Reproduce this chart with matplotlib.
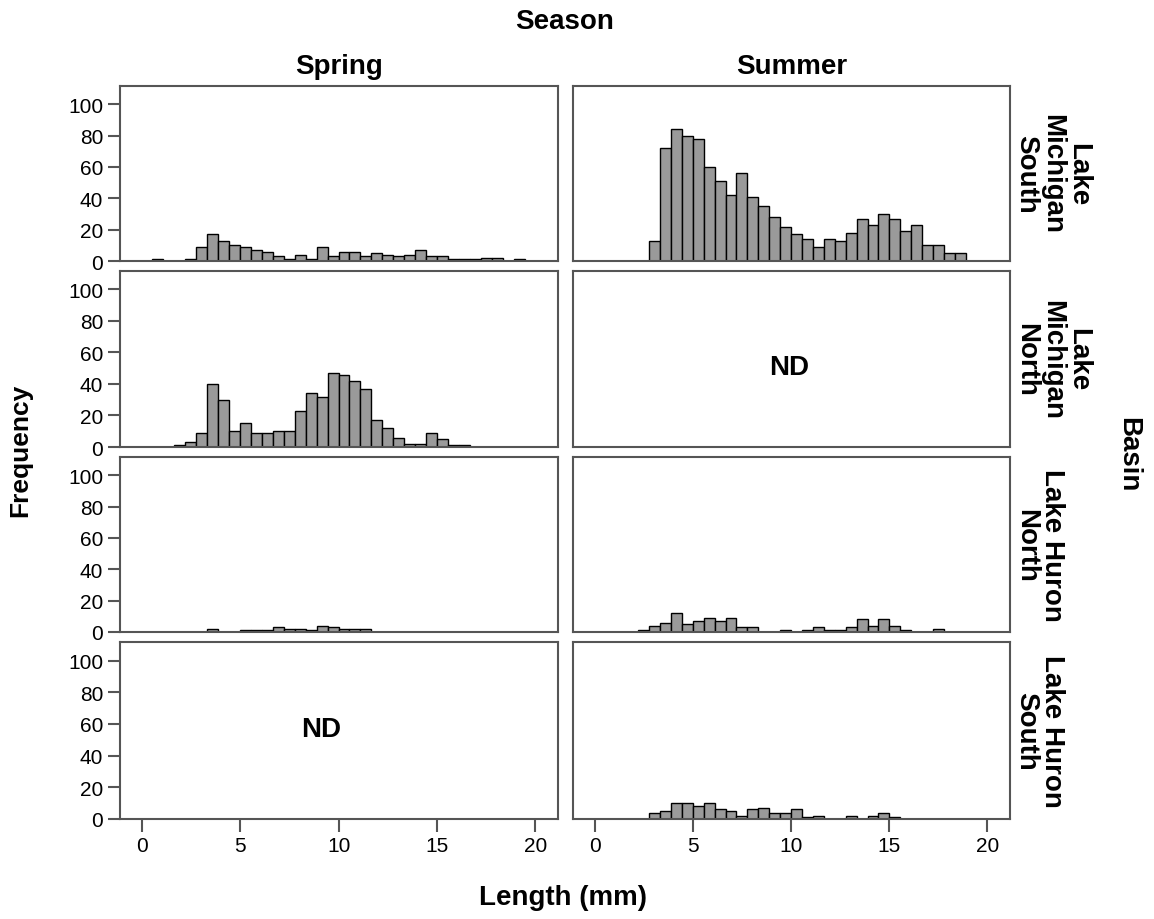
import numpy as np
import matplotlib
matplotlib.use('Agg')
import matplotlib.pyplot as plt

plt.rcParams['font.family'] = ['Liberation Sans', 'DejaVu Sans']

# histogram bins shared by all panels (length in mm)
bin_lo = 0.53
bin_w = 0.5566
n_bins = 34

seasons = ['Spring', 'Summer']
basins = ['Lake\nMichigan\nSouth', 'Lake\nMichigan\nNorth', 'Lake Huron\nNorth', 'Lake Huron\nSouth']

# frequency per bin, one list per panel (None = no data)
spring_lms = [1, 0, 0, 1, 9, 17, 13, 10, 9, 7, 6, 3, 1, 4, 1, 9, 3, 6, 6, 3,
              5, 4, 3, 4, 7, 3, 3, 1, 1, 1, 2, 2, 0, 1]
summer_lms = [0, 0, 0, 0, 13, 72, 84, 80, 78, 60, 51, 42, 56, 41, 35, 28, 22, 17, 14, 9,
              14, 13, 18, 27, 23, 30, 27, 19, 23, 10, 10, 5, 5, 0]
spring_lmn = [0, 0, 1, 3, 9, 40, 30, 10, 15, 9, 9, 10, 10, 23, 34, 32, 47, 46, 42, 37,
              17, 12, 6, 2, 2, 9, 5, 1, 1, 0, 0, 0, 0, 0]
summer_lmn = None
spring_lhn = [0, 0, 0, 0, 0, 2, 0, 0, 1, 1, 1, 3, 2, 2, 1, 4, 3, 2, 2, 2,
              0, 0, 0, 0, 0, 0, 0, 0, 0, 0, 0, 0, 0, 0]
summer_lhn = [0, 0, 0, 1, 4, 6, 12, 5, 7, 9, 7, 9, 3, 3, 0, 0, 1, 0, 1, 3,
              1, 1, 3, 8, 4, 8, 4, 1, 0, 0, 2, 0, 0, 0]
spring_lhs = None
summer_lhs = [0, 0, 0, 0, 4, 5, 10, 10, 8, 10, 6, 5, 2, 6, 7, 4, 4, 6, 1, 2,
              0, 0, 2, 0, 2, 4, 1, 0, 0, 0, 0, 0, 0, 0]

panels = [[spring_lms, summer_lms],
          [spring_lmn, summer_lmn],
          [spring_lhn, summer_lhn],
          [spring_lhs, summer_lhs]]
nd_pos = {(1, 1): (9.9, 51), (3, 0): (9.1, 57)}

x_ticks = [0, 5, 10, 15, 20]
y_ticks = [0, 20, 40, 60, 80, 100]

W, H = 1154, 920
fig = plt.figure(figsize=(W / 100, H / 100), dpi=100)


def rect(x0, y0, x1, y1):
    return [x0 / W, 1 - y1 / H, (x1 - x0) / W, (y1 - y0) / H]


cols = [(120, 558), (573, 1010)]
rows = [(87, 262), (272, 448), (458, 633), (643, 820)]
spine_c = '#555555'
edges = bin_lo + bin_w * np.arange(n_bins + 1)

for r, (y0, y1) in enumerate(rows):
    for c, (x0, x1) in enumerate(cols):
        ax = fig.add_axes(rect(x0, y0, x1, y1))
        counts = panels[r][c]
        if counts is not None:
            counts = np.array(counts)
            m = counts > 0
            ax.bar(edges[:-1][m], counts[m], width=bin_w, align='edge',
                   color='#9a9a9a', edgecolor='black', linewidth=1.0)
        else:
            ax.text(*nd_pos[(r, c)], 'ND', ha='center', va='center',
                    fontsize=20, fontweight='bold')
        ax.set_xlim(-1.12, 21.15)
        ax.set_ylim(0, 111.7)
        for s in ax.spines.values():
            s.set_color(spine_c)
            s.set_linewidth(1.5)
        ax.tick_params(direction='out', length=9, width=1.5, color=spine_c,
                       labelsize=15, pad=3)
        ax.set_xticks(x_ticks)
        if r < len(rows) - 1:
            ax.tick_params(axis='x', bottom=False, labelbottom=False)
        if c == 0:
            ax.set_yticks(y_ticks)
        else:
            ax.set_yticks([])
        if r == 0:
            ax.text(0.5, 1.04, seasons[c], transform=ax.transAxes, ha='center',
                    va='bottom', fontsize=20, fontweight='bold')
    fig.text(1013 / W, 1 - (y0 + y1) / 2 / H, basins[r], rotation=270,
             ha='left', va='center', multialignment='center', fontsize=20,
             fontweight='bold', linespacing=1.0)

fig.text(565 / W, 1 - 22 / H, 'Season', ha='center', va='center',
         fontsize=20, fontweight='bold')
fig.text(20 / W, 1 - 450 / H, 'Frequency', rotation=90, ha='center',
         va='center', fontsize=19, fontweight='bold')
fig.text(1128 / W, 1 - 455 / H, 'Basin', rotation=270, ha='center',
         va='center', fontsize=20, fontweight='bold')
fig.text(563 / W, 1 - 898 / H, 'Length (mm)', ha='center', va='center',
         fontsize=20, fontweight='bold')

fig.savefig('out.png', dpi=100)
